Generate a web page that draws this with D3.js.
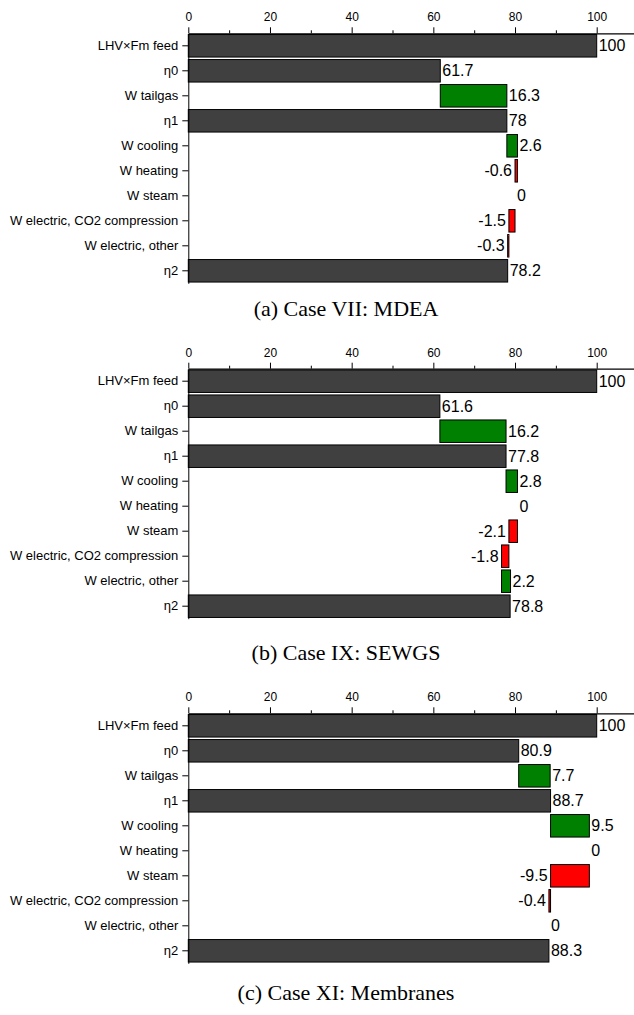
<!DOCTYPE html>
<html>
<head>
<meta charset="utf-8">
<script src="https://cdn.jsdelivr.net/npm/d3@7"></script>
<style>
  html, body { margin: 0; padding: 0; background: #fff; }
  svg { display: block; }
  .axis text { font-family: "Liberation Sans", Arial, sans-serif; fill: #000; }
  .axis path, .axis line { stroke: #000; }
</style>
</head>
<body>
<script>
// Row labels shared by the three waterfall panels
const categories = [
  "LHV×Fm feed", "η0", "W tailgas", "η1", "W cooling", "W heating",
  "W steam", "W electric, CO2 compression", "W electric, other", "η2"
];
// true = absolute level (drawn from 0), false = change stacked on the running total
const isTotal = [true, true, false, true, false, false, false, false, false, true];

// Values per case (% of LHV×Fm feed)
const caseVII = [100, 61.7, 16.3, 78, 2.6, -0.6, 0, -1.5, -0.3, 78.2];
const caseIX  = [100, 61.6, 16.2, 77.8, 2.8, 0, -2.1, -1.8, 2.2, 78.8];
const caseXI  = [100, 80.9, 7.7, 88.7, 9.5, 0, -9.5, -0.4, 0, 88.3];

const captions = ["(a) Case VII: MDEA", "(b) Case IX: SEWGS", "(c) Case XI: Membranes"];
const tickValues = [0, 10, 20, 30, 40, 50, 60, 70, 80, 90, 100];
const labelledTicks = [0, 20, 40, 60, 80, 100];

const panels = [
  { values: caseVII, caption: captions[0], top: 33.3, captionY: 315.5 },
  { values: caseIX,  caption: captions[1], top: 368.7, captionY: 660 },
  { values: caseXI,  caption: captions[2], top: 713.3, captionY: 1000 }
];

const W = 634, H = 1015;
const left = 188.3, plotH = 250;

const svg = d3.select("body").append("svg")
  .attr("width", W).attr("height", H)
  .attr("viewBox", `0 0 ${W} ${H}`);
svg.append("rect").attr("width", W).attr("height", H).attr("fill", "#fff");

// x: 0..100 spans 188.3..596.7 px; the axis line runs on to the right edge
const x = d3.scaleLinear().domain([0, 109.6]).range([left, left + 109.6 * 4.084]);

function colorFor(i, v) {
  if (isTotal[i]) return "#404040";
  return v >= 0 ? "#008000" : "#ff0000";
}

panels.forEach(p => {
  const g = svg.append("g").attr("transform", `translate(0,${p.top})`);
  const y = d3.scaleBand().domain(categories).range([0, plotH]).paddingInner(0.1).paddingOuter(0.05);

  // waterfall segments
  let running = 0;
  const rows = p.values.map((v, i) => {
    let start, end;
    if (isTotal[i]) { start = 0; end = v; running = v; }
    else { start = running; end = running + v; running = end; }
    return { cat: categories[i], v, i, start, end };
  });

  g.selectAll("rect.bar").data(rows.filter(d => d.v !== 0)).join("rect")
    .attr("class", "bar")
    .attr("x", d => x(Math.min(d.start, d.end)))
    .attr("width", d => Math.abs(x(d.end) - x(d.start)))
    .attr("y", d => y(d.cat))
    .attr("height", y.bandwidth())
    .attr("fill", d => colorFor(d.i, d.v))
    .attr("stroke", "#000")
    .attr("stroke-width", 1);

  g.selectAll("text.val").data(rows).join("text")
    .attr("class", "val")
    .attr("x", d => d.v < 0 ? x(Math.min(d.start, d.end)) - 3 : x(Math.max(d.start, d.end)) + 2)
    .attr("y", d => y(d.cat) + y.bandwidth() / 2)
    .attr("dy", "0.35em")
    .attr("text-anchor", d => d.v < 0 ? "end" : "start")
    .attr("font-family", '"Liberation Sans", Arial, sans-serif')
    .attr("font-size", 16)
    .attr("fill", "#000")
    .text(d => String(d.v));

  // top value axis
  const xAxis = g.append("g").attr("class", "axis")
    .call(d3.axisTop(x).tickValues(tickValues).tickSize(6).tickSizeOuter(0).tickPadding(6)
      .tickFormat(d => labelledTicks.includes(d) ? d : ""));
  xAxis.selectAll(".tick text").attr("font-size", 12);
  xAxis.selectAll(".tick line").attr("y2", d => labelledTicks.includes(d) ? -6 : -3);
  xAxis.select(".domain").attr("stroke-width", 1.2);

  // category axis
  const yAxis = g.append("g").attr("class", "axis").attr("transform", `translate(${left},0)`)
    .call(d3.axisLeft(y).tickSize(6).tickSizeOuter(0).tickPadding(4));
  yAxis.selectAll(".tick text").attr("font-size", 13);

  svg.append("text")
    .attr("x", 346).attr("y", p.captionY)
    .attr("text-anchor", "middle")
    .attr("font-family", '"Liberation Serif", "Times New Roman", serif')
    .attr("font-size", 22)
    .attr("fill", "#000")
    .text(p.caption);
});
</script>
</body>
</html>
